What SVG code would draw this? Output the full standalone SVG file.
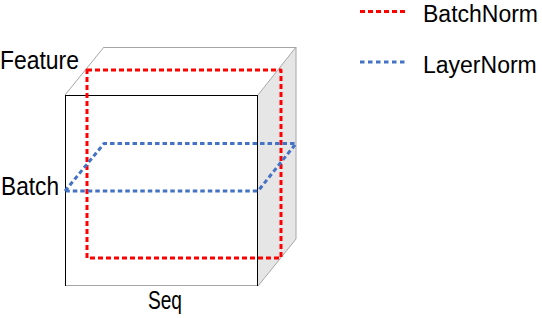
<svg xmlns="http://www.w3.org/2000/svg" width="542" height="318" viewBox="0 0 542 318">
<style>
.lbl{font-family:"Liberation Sans",Arial,sans-serif;font-size:25px;fill:#000}
.leg{font-family:"Liberation Sans",Arial,sans-serif;font-size:23px;fill:#000}
.red{fill:none;stroke:#ff0000;stroke-width:3;stroke-dasharray:5 3;stroke-linejoin:round}
.blue{fill:none;stroke:#4472c4;stroke-width:3;stroke-dasharray:4.5 3;stroke-linejoin:round}
.thin{fill:none;stroke:#a6a6a6;stroke-width:1}
.edge{fill:none;stroke:#000;stroke-width:1}
</style>
<rect width="542" height="318" fill="#fff"/>
<g id="cube">
<polygon points="258,95 296,47 296,239 258,286" fill="#e6e6e6"/>
<polygon points="65,95 104,47 296,47 258,95" fill="#fff"/>
<line class="thin" x1="104" y1="47.5" x2="296" y2="47.5"/>
<line class="thin" x1="65" y1="95" x2="104" y2="47"/>
<line class="thin" x1="258" y1="95" x2="296" y2="47"/>
<line class="thin" x1="296" y1="47" x2="296" y2="239"/>
<line class="thin" x1="258" y1="286" x2="296" y2="239"/>
<line class="thin" x1="65" y1="285.5" x2="258" y2="285.5"/>
<line class="edge" x1="65" y1="95.5" x2="258" y2="95.5"/>
<line class="edge" x1="65.5" y1="95" x2="65.5" y2="286"/>
<line class="edge" x1="257.5" y1="95" x2="257.5" y2="286"/>
</g>
<g id="connectors">
<rect id="batchnorm-slice" class="red" x="87" y="70" width="194" height="188"/>
<polygon id="layernorm-slice" class="blue" points="65,191 104,143.5 296,143.5 258,191"/>
</g>
<g id="labels">
<text class="lbl" x="0" y="69" textLength="79" lengthAdjust="spacingAndGlyphs">Feature</text>
<text class="lbl" x="1" y="194.5" textLength="58" lengthAdjust="spacingAndGlyphs">Batch</text>
<text class="lbl" x="148" y="309" textLength="34" lengthAdjust="spacingAndGlyphs">Seq</text>
</g>
<g id="legend">
<line x1="360" y1="11.5" x2="408" y2="11.5" stroke="#ff0000" stroke-width="3" stroke-dasharray="5 3"/>
<text class="leg" x="423" y="22">BatchNorm</text>
<line x1="360" y1="62" x2="408" y2="62" stroke="#4472c4" stroke-width="3" stroke-dasharray="4.5 3.5"/>
<text class="leg" x="423" y="73">LayerNorm</text>
</g>
</svg>
